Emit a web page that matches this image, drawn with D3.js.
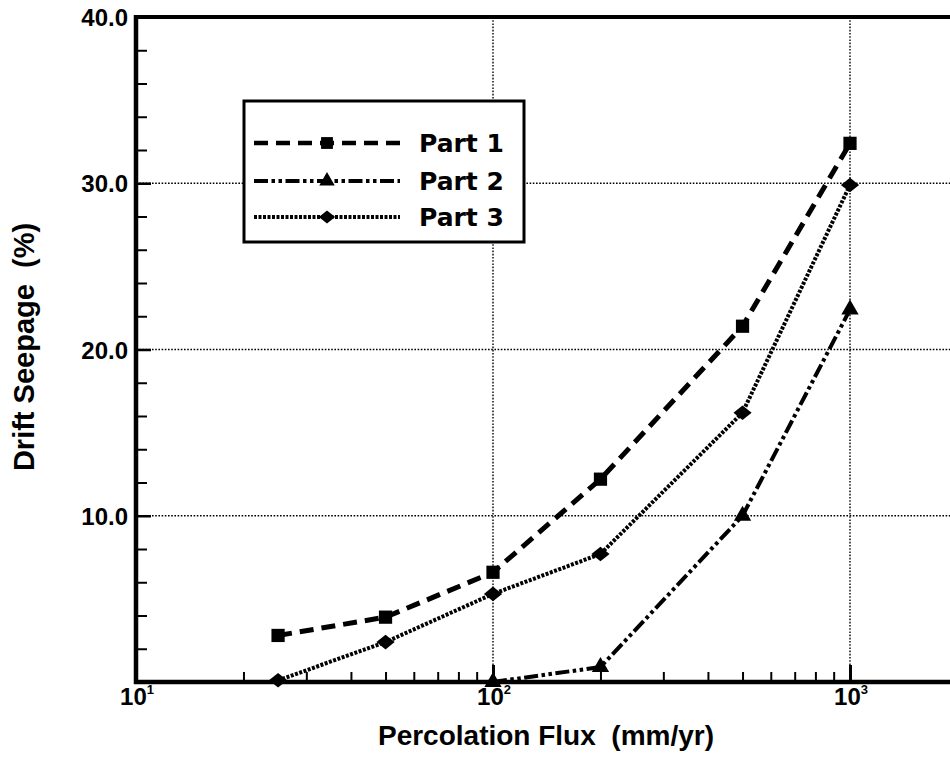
<!DOCTYPE html>
<html><head><meta charset="utf-8">
<script src="https://cdn.jsdelivr.net/npm/d3@7/dist/d3.min.js"></script>
<style>
body{margin:0;background:#fff;}
text{font-family:"Liberation Sans",Arial,sans-serif;font-weight:bold;fill:#000;white-space:pre;}
text.leg{font-family:"DejaVu Sans",Arial,sans-serif;}
</style></head><body>
<svg id="c" width="950" height="757"></svg>
<script>
const flux = [25, 50, 100, 200, 500, 1000];
const part1 = [2.8, 3.9, 6.6, 12.2, 21.4, 32.4];
const part2flux = [100, 200, 500, 1000];
const part2 = [0.0, 0.9, 10.0, 22.4];
const part3 = [0.1, 2.4, 5.3, 7.7, 16.2, 29.9];
const yMajor = [10, 20, 30, 40];
const yLabels = ["10.0", "20.0", "30.0", "40.0"];
const xMajor = [10, 100, 1000];
const xMajorExp = ["1", "2", "3"];
const xMinor = [20,30,40,50,60,70,80,90,200,300,400,500,600,700,800,900];
const seriesNames = ["Part 1", "Part 2", "Part 3"];

const svg = d3.select("#c");
const L = 136, T = 17, B = 682;
const x = d3.scaleLog().domain([10, 2000]).range([L, L + 357 * Math.log10(200)]);
const y = d3.scaleLinear().domain([0, 40]).range([B, T]);

// grid
const g = svg.append("g");
g.selectAll("line.gx").data([100, 1000]).enter().append("line")
  .attr("x1", d => x(d)).attr("x2", d => x(d)).attr("y1", y(40)).attr("y2", y(0))
  .attr("stroke", "#000").attr("stroke-width", 1.4).attr("stroke-dasharray", "1.6,1.6");
g.selectAll("line.gy").data([10, 20, 30]).enter().append("line")
  .attr("x1", L).attr("x2", 950).attr("y1", d => y(d)).attr("y2", d => y(d))
  .attr("stroke", "#000").attr("stroke-width", 1.4).attr("stroke-dasharray", "1.6,1.6");

// y axis (inward ticks)
const yMinor = d3.range(2, 40, 2).filter(v => v % 10 !== 0);
svg.append("g").attr("transform", `translate(${L},0)`)
  .call(d3.axisRight(y).tickValues(yMinor).tickSize(11).tickFormat(""))
  .call(s => { s.select(".domain").remove(); s.selectAll("line").attr("stroke-width", 2); });
svg.append("g").attr("transform", `translate(${L},0)`)
  .call(d3.axisLeft(y).tickValues(yMajor).tickSize(0).tickPadding(8).tickFormat((d, i) => yLabels[i]))
  .call(s => { s.select(".domain").remove(); s.selectAll("text").attr("font-size", 24).attr("dy", "0.36em")
    .attr("font-family", null); });
svg.append("g").attr("transform", `translate(${L},0)`)
  .call(d3.axisRight(y).tickValues([10, 20, 30]).tickSize(15).tickFormat(""))
  .call(s => { s.select(".domain").remove(); s.selectAll("line").attr("stroke-width", 2.5); });

// x axis
svg.append("g").attr("transform", `translate(0,${B})`)
  .call(d3.axisTop(x).tickValues(xMinor).tickSize(10).tickFormat(""))
  .call(s => { s.select(".domain").remove(); s.selectAll("line").attr("stroke-width", 2); });
svg.append("g").attr("transform", `translate(0,${B})`)
  .call(d3.axisTop(x).tickValues([100, 1000]).tickSize(17).tickFormat(""))
  .call(s => { s.select(".domain").remove(); s.selectAll("line").attr("stroke-width", 3); });
const xl = svg.append("g");
xMajor.forEach((v, i) => {
  const t = xl.append("text").attr("x", x(v) + 1).attr("y", B + 23).attr("text-anchor", "middle")
    .attr("font-size", 24);
  t.append("tspan").text("10");
  t.append("tspan").attr("font-size", 13).attr("dy", -11).text(xMajorExp[i]);
});

// frame
svg.append("line").attr("x1", L).attr("x2", L).attr("y1", T - 2).attr("y2", B + 2)
  .attr("stroke", "#000").attr("stroke-width", 4.5);
svg.append("line").attr("x1", L - 2).attr("x2", 950).attr("y1", B).attr("y2", B)
  .attr("stroke", "#000").attr("stroke-width", 4.5);
svg.append("line").attr("x1", L - 2).attr("x2", 950).attr("y1", T).attr("y2", T)
  .attr("stroke", "#000").attr("stroke-width", 4);

// series
const diamond = { draw(ctx, size) { const w = Math.sqrt(size) * 0.72, h = w * 0.8;
  ctx.moveTo(0, -h); ctx.lineTo(w, 0); ctx.lineTo(0, h); ctx.lineTo(-w, 0); ctx.closePath(); } };
const styles = [
  { dash: "14,8", w: 5, sym: d3.symbolSquare, size: 175 },
  { dash: "14,3.5,3.5,3.5,3.5,3.5", w: 4, sym: d3.symbolTriangle, size: 130 },
  { dash: "3,1.5", w: 4, sym: diamond, size: 160 }
];
const data = [
  flux.map((f, i) => [f, part1[i]]),
  part2flux.map((f, i) => [f, part2[i]]),
  flux.map((f, i) => [f, part3[i]])
];
const line = d3.line().x(d => x(d[0])).y(d => y(d[1]));
data.forEach((ds, k) => {
  const st = styles[k];
  svg.append("path").datum(ds).attr("d", line).attr("fill", "none").attr("stroke", "#000")
    .attr("stroke-width", st.w).attr("stroke-dasharray", st.dash);
  svg.selectAll(null).data(ds).enter().append("path")
    .attr("transform", d => `translate(${x(d[0])},${y(d[1])})`)
    .attr("d", d3.symbol().type(st.sym).size(st.size)).attr("fill", "#000");
});

// legend
const lg = svg.append("g");
lg.append("rect").attr("x", 244).attr("y", 101).attr("width", 280).attr("height", 141)
  .attr("fill", "#fff").attr("stroke", "#000").attr("stroke-width", 3);
seriesNames.forEach((n, k) => {
  const yy = [143, 181, 217][k];
  const st = styles[k];
  lg.append("line").attr("x1", 254).attr("x2", 400).attr("y1", yy).attr("y2", yy)
    .attr("stroke", "#000").attr("stroke-width", k === 0 ? 4.5 : 4).attr("stroke-dasharray", st.dash);
  lg.append("path").attr("transform", `translate(327,${yy})`)
    .attr("d", d3.symbol().type(st.sym).size(st.size * 0.8)).attr("fill", "#000");
  lg.append("text").attr("class", "leg").attr("x", 419).attr("y", yy + 9).attr("font-size", 25).text(n);
});

// axis titles
svg.append("text").attr("x", 546).attr("y", 745).attr("text-anchor", "middle")
  .attr("font-size", 28).text("Percolation Flux  (mm/yr)");
svg.append("text").attr("transform", "translate(34,347) rotate(-90)").attr("text-anchor", "middle")
  .attr("font-size", 29).text("Drift Seepage  (%)");
</script></body></html>
